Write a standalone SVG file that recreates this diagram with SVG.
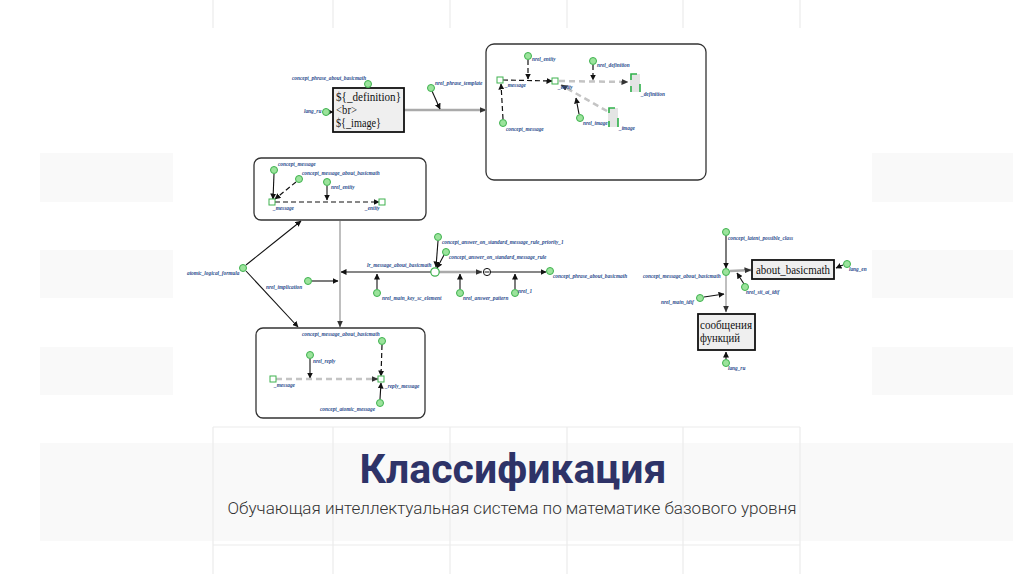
<svg xmlns="http://www.w3.org/2000/svg" width="1024" height="574" viewBox="0 0 1024 574">
<defs>
<marker id="ab" markerUnits="userSpaceOnUse" markerWidth="6" markerHeight="6" refX="5.5" refY="3" orient="auto"><path d="M0,0 L6,3 L0,6 z" fill="#111"/></marker>
<marker id="ag" markerUnits="userSpaceOnUse" markerWidth="7" markerHeight="6" refX="6.5" refY="3" orient="auto"><path d="M0,0 L7,3 L0,6 z" fill="#333"/></marker>
<style>
.bg{fill:#f9f9f9}
.gl{stroke:#ebebeb;stroke-width:1.2;fill:none}
.frame{fill:#fff;stroke:#333;stroke-width:1.3}
.lb{font-family:"Liberation Serif",serif;font-style:italic;font-weight:bold;font-size:5.3px;fill:#2c4d8e}
.nd{fill:#9be39b;stroke:#3fb24f;stroke-width:1}
.sq{fill:#fff;stroke:#3fb24f;stroke-width:1}
.bl{stroke:#111;stroke-width:1.1;fill:none;marker-end:url(#ab)}
.bd{stroke:#111;stroke-width:1.2;fill:none;stroke-dasharray:5,3;marker-end:url(#ab)}
.gr{stroke:#aaa;stroke-width:2.5;fill:none;marker-end:url(#ag)}
.gd{stroke:#c4c4c4;stroke-width:2.5;fill:none;stroke-dasharray:6,4;marker-end:url(#ag)}
.gv{stroke:#aaa;stroke-width:1.5;fill:none;marker-end:url(#ag)}
.bx{fill:#efefef;stroke:#111;stroke-width:1.8}
.bt{font-family:"Liberation Serif",serif;fill:#111}
.lk{fill:#e4e4e4}
.lkg{stroke:#2fb14a;stroke-width:1.6;fill:none}
</style>
</defs>
<rect width="1024" height="574" fill="#fff"/>
<g id="background">
<rect class="bg" x="40" y="153" width="133" height="49"/>
<rect class="bg" x="40" y="250" width="133" height="48"/>
<rect class="bg" x="40" y="347" width="133" height="48"/>
<rect class="bg" x="872" y="153" width="141" height="49"/>
<rect class="bg" x="872" y="250" width="141" height="48"/>
<rect class="bg" x="872" y="347" width="141" height="48"/>
<rect class="bg" x="40" y="443" width="973" height="98"/>
<path class="gl" d="M213,0V28M333,0V28M450,0V28M567,0V28M683,0V28M800,0V28"/>
<path class="gl" d="M213,427H800M213,545H800M213,427V574M333,427V574M450,427V574M567,427V574M683,427V574M800,427V574"/>
</g>
<g id="frames">
<rect class="frame" x="486" y="44" width="220" height="136" rx="8"/>
<rect class="frame" x="254" y="158" width="172" height="62" rx="7"/>
<rect class="frame" x="256" y="328" width="169" height="90" rx="7"/>
</g>
<g id="connectors">
<line class="bl" x1="329" y1="112" x2="333" y2="112"/>
<line class="gr" x1="404" y1="110" x2="486" y2="110"/>
<line class="bl" x1="432" y1="91" x2="440" y2="109"/>
<line class="bd" x1="503" y1="80" x2="552" y2="81"/>
<line class="bd" x1="528" y1="60" x2="528" y2="79"/>
<line class="bd" x1="503" y1="119" x2="501" y2="84"/>
<line class="gd" x1="559" y1="81" x2="628" y2="82"/>
<line class="bd" x1="593" y1="65" x2="593" y2="80"/>
<line class="gd" x1="607" y1="111" x2="561" y2="85"/>
<line class="bl" x1="579" y1="114" x2="576" y2="98"/>
<line class="bl" x1="274" y1="174" x2="273" y2="199"/>
<line class="bd" x1="296" y1="182" x2="275" y2="199"/>
<line class="bd" x1="275" y1="202" x2="379" y2="202"/>
<line class="bl" x1="327" y1="186" x2="327" y2="200"/>
<line class="bl" x1="246" y1="265" x2="301" y2="221"/>
<line class="bl" x1="246" y1="271" x2="298" y2="327"/>
<line class="gv" x1="340" y1="221" x2="340" y2="327"/>
<line class="bl" x1="431" y1="272" x2="341" y2="272"/>
<line class="bl" x1="312" y1="281" x2="338" y2="281"/>
<line class="bl" x1="377" y1="289" x2="377" y2="274"/>
<line class="bl" x1="438" y1="241" x2="436" y2="267"/>
<line class="bl" x1="444" y1="255" x2="437" y2="268"/>
<line class="gr" x1="439" y1="272" x2="482" y2="272"/>
<line class="bl" x1="491" y1="272" x2="546" y2="272"/>
<line class="bl" x1="460" y1="289" x2="460" y2="274"/>
<line class="bl" x1="515" y1="289" x2="515" y2="274"/>
<line class="bd" x1="382" y1="345" x2="381" y2="376"/>
<line class="bl" x1="310" y1="359" x2="310" y2="378"/>
<line class="gd" x1="276" y1="379" x2="378" y2="379"/>
<line class="bl" x1="380" y1="399" x2="381" y2="383"/>
<line class="bl" x1="726" y1="236" x2="726" y2="268"/>
<line class="gr" x1="730" y1="271" x2="751" y2="270"/>
<line class="bl" x1="843" y1="265" x2="836" y2="268"/>
<line class="bl" x1="744" y1="284" x2="737" y2="273"/>
<line class="gv" x1="726" y1="276" x2="726" y2="312"/>
<line class="bl" x1="704" y1="297" x2="724" y2="294"/>
<line class="bl" x1="726" y1="359" x2="726" y2="352"/>
</g>
<g id="template">
<rect class="bx" x="333" y="88" width="71" height="44"/>
<text class="bt" x="336" y="101" font-size="11.5" textLength="65" lengthAdjust="spacingAndGlyphs">${_definition}</text>
<text class="bt" x="336" y="114" font-size="11.5" textLength="21" lengthAdjust="spacingAndGlyphs">&lt;br&gt;</text>
<text class="bt" x="336" y="127" font-size="11.5" textLength="45" lengthAdjust="spacingAndGlyphs">${_image}</text>
</g>
<g id="concept_phrase_top"><circle class="nd" cx="368" cy="84" r="3.5"/><text class="lb" x="292" y="80">concept_phrase_about_basicmath</text></g>
<g id="lang_ru_top"><circle class="nd" cx="326" cy="112" r="3.5"/><text class="lb" x="304" y="113">lang_ru</text></g>
<g id="nrel_phrase_template"><circle class="nd" cx="431" cy="88" r="3.5"/><text class="lb" x="435" y="85">nrel_phrase_template</text></g>
<g id="tpl_message"><rect class="sq" x="497" y="77" width="6" height="6"/><text class="lb" x="505" y="87">_message</text></g>
<g id="tpl_nrel_entity"><circle class="nd" cx="528" cy="56" r="3.5"/><text class="lb" x="532" y="61">nrel_entity</text></g>
<g id="tpl_concept_message"><circle class="nd" cx="503" cy="123" r="3.5"/><text class="lb" x="506" y="131">concept_message</text></g>
<g id="tpl_entity"><rect class="sq" x="552" y="78" width="6" height="6"/><text class="lb" x="558" y="89">_entity</text></g>
<g id="tpl_nrel_definition"><circle class="nd" cx="593" cy="61" r="3.5"/><text class="lb" x="597" y="67">nrel_definition</text></g>
<g id="tpl_definition"><rect class="lk" x="630" y="74" width="10" height="18"/><path class="lkg" d="M631,80V74H637M631,86V92M640,84V92"/><text class="lb" x="641" y="96">_definition</text></g>
<g id="tpl_nrel_image"><circle class="nd" cx="580" cy="118" r="3.5"/><text class="lb" x="583" y="125">nrel_image</text></g>
<g id="tpl_image"><rect class="lk" x="608" y="108" width="10" height="19"/><path class="lkg" d="M609,113V108H615M609,121V127M618,118V127"/><text class="lb" x="619" y="130">_image</text></g>
<g id="l_concept_message"><circle class="nd" cx="274" cy="170" r="3.5"/><text class="lb" x="278" y="166">concept_message</text></g>
<g id="l_concept_message_about"><circle class="nd" cx="299" cy="179" r="3.5"/><text class="lb" x="302" y="175">concept_message_about_basicmath</text></g>
<g id="l_nrel_entity"><circle class="nd" cx="327" cy="182" r="3.5"/><text class="lb" x="331" y="189">nrel_entity</text></g>
<g id="l_message"><rect class="sq" x="269" y="199" width="6" height="6"/><text class="lb" x="273" y="210">_message</text></g>
<g id="l_entity"><rect class="sq" x="379" y="199" width="6" height="6"/><text class="lb" x="365" y="210">_entity</text></g>
<g id="atomic_logical_formula"><circle class="nd" cx="243" cy="268" r="3.5"/><text class="lb" x="187" y="275">atomic_logical_formula</text></g>
<g id="nrel_implication"><circle class="nd" cx="308" cy="281" r="3.5"/><text class="lb" x="266" y="289">nrel_implication</text></g>
<g id="lr_message"><circle cx="435" cy="272" r="4.2" fill="#fff" stroke="#3fb24f" stroke-width="1.2"/><text class="lb" x="367" y="267">lr_message_about_basicmath</text></g>
<g id="nrel_main_key"><circle class="nd" cx="377" cy="293" r="3.5"/><text class="lb" x="382" y="300">nrel_main_key_sc_element</text></g>
<g id="priority_1"><circle class="nd" cx="438" cy="237" r="3.5"/><text class="lb" x="442" y="244">concept_answer_on_standard_message_rule_priority_1</text></g>
<g id="answer_rule"><circle class="nd" cx="446" cy="252" r="3.5"/><text class="lb" x="449" y="259">concept_answer_on_standard_message_rule</text></g>
<g id="minus_node"><circle cx="487" cy="272" r="3.6" fill="#fff" stroke="#111" stroke-width="1"/><line x1="484.5" y1="272" x2="489.5" y2="272" stroke="#111" stroke-width="1"/></g>
<g id="concept_phrase_mid"><circle class="nd" cx="550" cy="271" r="3.5"/><text class="lb" x="553" y="278">concept_phrase_about_basicmath</text></g>
<g id="nrel_answer_pattern"><circle class="nd" cx="460" cy="293" r="3.5"/><text class="lb" x="463" y="300">nrel_answer_pattern</text></g>
<g id="nrel_1"><circle class="nd" cx="515" cy="293" r="3.5"/><text class="lb" x="518" y="293">nrel_1</text></g>
<g id="b_concept_message_about"><circle class="nd" cx="382" cy="341" r="3.5"/><text class="lb" x="302" y="336">concept_message_about_basicmath</text></g>
<g id="b_nrel_reply"><circle class="nd" cx="310" cy="355" r="3.5"/><text class="lb" x="313" y="363">nrel_reply</text></g>
<g id="b_message"><rect class="sq" x="270" y="376" width="6" height="6"/><text class="lb" x="274" y="387">_message</text></g>
<g id="b_reply_message"><rect class="sq" x="378" y="376" width="6" height="6"/><text class="lb" x="385" y="388">_reply_message</text></g>
<g id="b_concept_atomic"><circle class="nd" cx="380" cy="403" r="3.5"/><text class="lb" x="320" y="411">concept_atomic_message</text></g>
<g id="r_latent"><circle class="nd" cx="726" cy="232" r="3.5"/><text class="lb" x="728" y="240">concept_latent_possible_class</text></g>
<g id="r_concept_message_about"><circle class="nd" cx="726" cy="272" r="3.5"/><text class="lb" x="643" y="278">concept_message_about_basicmath</text></g>
<g id="about_basicmath"><rect class="bx" x="752" y="260" width="82" height="19"/><text class="bt" x="756" y="274" font-size="12.5" textLength="74" lengthAdjust="spacingAndGlyphs">about_basicmath</text></g>
<g id="lang_en"><circle class="nd" cx="847" cy="264" r="3.5"/><text class="lb" x="849" y="271">lang_en</text></g>
<g id="nrel_sit"><circle class="nd" cx="745" cy="287" r="3.5"/><text class="lb" x="746" y="294">nrel_sit_ai_idtf</text></g>
<g id="nrel_main_idtf"><circle class="nd" cx="700" cy="298" r="3.5"/><text class="lb" x="661" y="304">nrel_main_idtf</text></g>
<g id="soobshcheniya"><rect class="bx" x="698" y="314" width="57" height="36"/><text class="bt" x="700" y="329" font-size="12" textLength="52" lengthAdjust="spacingAndGlyphs">сообщения</text><text class="bt" x="700" y="342" font-size="12" textLength="40" lengthAdjust="spacingAndGlyphs">функций</text></g>
<g id="lang_ru_right"><circle class="nd" cx="726" cy="363" r="3.5"/><text class="lb" x="728" y="370">lang_ru</text></g>
<g id="title">
<text x="513" y="483" text-anchor="middle" font-family="Roboto,'Liberation Sans',sans-serif" font-weight="bold" font-size="40" fill="#2e3368" textLength="307" lengthAdjust="spacingAndGlyphs">Классификация</text>
<text x="512" y="514" text-anchor="middle" font-family="Roboto,'Liberation Sans',sans-serif" font-weight="300" font-size="17" fill="#333" textLength="569" lengthAdjust="spacingAndGlyphs">Обучающая интеллектуальная система по математике базового уровня</text>
</g>
</svg>
